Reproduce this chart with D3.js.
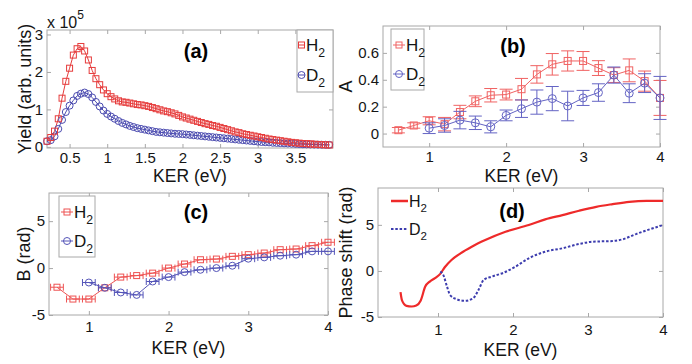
<!DOCTYPE html>
<html><head><meta charset="utf-8">
<script src="https://cdn.jsdelivr.net/npm/d3@7"></script>
<style>body{margin:0;background:#fff}svg{display:block}</style>
</head><body>
<svg id="c" width="692" height="364"></svg>
<script>
// ---------- DATA ----------
// (a) yield (x 1e5) vs KER
const aKER = [0.20,0.25,0.30,0.35,0.40,0.45,0.50,0.55,0.60,0.65,0.70,0.75,0.80,0.85,0.90,0.95,
  1.00,1.05,1.10,1.15,1.20,1.25,1.30,1.35,1.40,1.45,1.50,1.55,1.60,1.65,1.70,1.75,
  1.80,1.85,1.90,1.95,2.00,2.05,2.10,2.15,2.20,2.25,2.30,2.35,2.40,2.45,2.50,2.55,2.60,2.65,2.70,2.75,
  2.80,2.85,2.90,2.95,3.00,3.05,3.10,3.15,3.20,3.25,3.30,3.35,3.40,3.45,3.50,3.55,3.60,3.65,3.70,3.75,
  3.80,3.85,3.90,3.95];
const aH2 = [0.15,0.25,0.42,0.75,1.30,1.75,2.10,2.45,2.62,2.68,2.56,2.32,2.04,1.82,1.66,1.52,
  1.42,1.34,1.28,1.23,1.20,1.19,1.17,1.15,1.13,1.12,1.10,1.08,1.05,1.02,0.99,0.96,
  0.94,0.91,0.88,0.84,0.80,0.77,0.74,0.71,0.68,0.65,0.62,0.60,0.57,0.55,0.52,0.49,0.46,0.43,0.40,0.38,
  0.35,0.33,0.31,0.29,0.27,0.25,0.23,0.21,0.195,0.18,0.165,0.15,0.135,0.12,0.11,0.10,0.09,0.085,0.08,0.07,
  0.065,0.06,0.055,0.05];
const aD2 = [0.15,0.18,0.28,0.48,0.72,0.93,1.10,1.24,1.36,1.42,1.45,1.41,1.32,1.20,1.08,0.97,
  0.88,0.81,0.75,0.69,0.64,0.60,0.56,0.53,0.50,0.48,0.46,0.44,0.42,0.40,0.39,0.38,
  0.37,0.36,0.35,0.345,0.34,0.33,0.32,0.31,0.30,0.29,0.28,0.27,0.26,0.25,0.24,0.23,0.22,0.21,0.20,0.19,
  0.18,0.17,0.16,0.15,0.14,0.13,0.125,0.12,0.11,0.105,0.10,0.095,0.09,0.085,0.08,0.075,0.07,0.068,0.065,0.062,
  0.06,0.058,0.056,0.055];
const aXTicks = [0.5,1,1.5,2,2.5,3,3.5];
const aYTicks = [0,1,2,3];

// (b) asymmetry A
const bKER_H2 = [0.6,0.8,1.0,1.2,1.4,1.6,1.8,2.0,2.2,2.4,2.6,2.8,3.0,3.2,3.4,3.6,3.8,4.0];
const bH2     = [0.025,0.06,0.095,0.07,0.16,0.24,0.285,0.29,0.33,0.44,0.515,0.54,0.54,0.487,0.435,0.47,0.39,0.265];
const bH2err  = [0.02,0.02,0.03,0.05,0.05,0.04,0.05,0.04,0.08,0.065,0.08,0.075,0.07,0.055,0.055,0.085,0.075,0.13];
const bKER_D2 = [1.0,1.2,1.4,1.6,1.8,2.0,2.2,2.4,2.6,2.8,3.0,3.2,3.4,3.6,3.8,4.0];
const bD2     = [0.04,0.06,0.10,0.08,0.05,0.135,0.185,0.234,0.26,0.205,0.265,0.305,0.435,0.30,0.375,0.265];
const bD2err  = [0.04,0.05,0.065,0.05,0.045,0.04,0.065,0.09,0.09,0.11,0.056,0.065,0.06,0.07,0.07,0.16];
const bXTicks = [1,2,3,4];
const bYTicks = [0,0.2,0.4,0.6];

// (c) B (rad)
const cKER_H2 = [0.6,0.8,1.0,1.2,1.4,1.6,1.8,2.0,2.2,2.4,2.6,2.8,3.0,3.2,3.4,3.6,3.8,4.0];
const cH2     = [-2.04,-3.3,-3.3,-2.1,-0.96,-0.8,-0.54,0,0.43,0.89,0.96,1.25,1.43,1.6,1.96,2.03,2.39,2.75];
const cKER_D2 = [1.0,1.2,1.4,1.6,1.8,2.0,2.2,2.4,2.6,2.8,3.0,3.2,3.4,3.6,3.8,4.0];
const cD2     = [-1.54,-2.1,-2.6,-2.86,-1.43,-0.96,-0.43,-0.18,0,0.25,1.0,1.14,1.32,1.43,1.78,1.78];
const cKERerr = 0.08;
const cXTicks = [1,2,3,4];
const cYTicks = [-5,0,5];

// (d) phase shift (rad)
const dKER_H2 = [0.50,0.52,0.58,0.65,0.71,0.77,0.83,0.89,0.96,1.03,1.09,1.18,1.30,1.45,1.63,1.90,2.21,2.43,2.66,2.88,3.11,3.33,3.55,3.78,4.00];
const dH2     = [-2.3,-3.2,-3.79,-3.86,-3.75,-3.2,-1.7,-1.16,-0.79,-0.32,0.4,1.19,1.91,2.63,3.35,4.25,4.98,5.6,6.06,6.53,6.96,7.25,7.5,7.6,7.6];
const dKER_D2 = [1.03,1.07,1.12,1.16,1.25,1.36,1.47,1.54,1.61,1.72,1.88,2.03,2.21,2.43,2.66,2.88,3.06,3.33,3.46,3.64,3.82,4.00];
const dD2     = [-0.07,-0.43,-1.7,-2.6,-3.07,-3.25,-2.96,-2.06,-0.97,-0.61,-0.18,0.45,1.37,2.09,2.46,2.92,3.17,3.25,3.43,4.0,4.51,4.98];
const dXTicks = [1,2,3,4];
const dYTicks = [-5,0,5];

// ---------- DRAWING ----------
const FONT = '"Liberation Sans", Arial, sans-serif';
const FRAME = "#a8a8a8", TXT = "#151515";
const svg = d3.select("#c").attr("font-family", FONT);

function panel(o){
  const x = d3.scaleLinear().domain(o.xd).range([o.l, o.r]);
  const y = d3.scaleLinear().domain(o.yd).range([o.b, o.t]);
  const g = svg.append("g");
  const ax = (gen, tr) => {
    const a = g.append("g").attr("transform", tr).call(gen)
      .attr("font-family", FONT).attr("font-size", 15);
    a.select(".domain").remove();
    a.selectAll("line").attr("stroke", FRAME);
    a.selectAll("text").attr("fill", TXT);
    return a;
  };
  ax(d3.axisBottom(x).tickValues(o.xt).tickSize(-4).tickPadding(o.xpad).tickFormat(d => String(d)), `translate(0,${o.b})`);
  ax(d3.axisTop(x).tickValues(o.xt).tickSize(-4).tickFormat(""), `translate(0,${o.t})`);
  ax(d3.axisLeft(y).tickValues(o.yt).tickSize(-4).tickPadding(o.ypad).tickFormat(d => String(d)), `translate(${o.l},0)`);
  ax(d3.axisRight(y).tickValues(o.yt).tickSize(-4).tickFormat(""), `translate(${o.r},0)`);
  g.append("rect").attr("x", o.l).attr("y", o.t).attr("width", o.r - o.l).attr("height", o.b - o.t)
    .attr("fill", "none").attr("stroke", FRAME).attr("stroke-width", 1);
  g.append("text").attr("x", (o.l + o.r) / 2).attr("y", o.xlY).attr("text-anchor", "middle")
    .attr("font-size", 17.5).attr("fill", TXT).text("KER (eV)");
  g.append("text").attr("transform", `translate(${o.ylX},${(o.t + o.b) / 2}) rotate(-90)`)
    .attr("text-anchor", "middle").attr("font-size", 18).attr("fill", TXT).text(o.ylab);
  g.append("text").attr("x", o.tagX).attr("y", o.tagY).attr("text-anchor", "middle")
    .attr("font-size", 20).attr("font-weight", "bold").attr("fill", "#000").text(o.tag);
  return {x, y, g};
}

function marker(g, type, cx, cy, color, s){
  if (type === "sq") {
    g.append("rect").attr("x", cx - s / 2).attr("y", cy - s / 2).attr("width", s).attr("height", s)
      .attr("fill", "none").attr("stroke", color).attr("stroke-width", 1);
  } else {
    g.append("circle").attr("cx", cx).attr("cy", cy).attr("r", s / 2)
      .attr("fill", "none").attr("stroke", color).attr("stroke-width", 1);
  }
}

function legendEntry(g, x0, x1, y, color, type, s, label, fs, opts = {}){
  g.append("line").attr("x1", x0).attr("x2", x1).attr("y1", y).attr("y2", y)
    .attr("stroke", color).attr("stroke-width", opts.lw || 1)
    .attr("stroke-dasharray", opts.dash || null);
  if (type) marker(g, type, (x0 + x1) / 2, y, color, s);
  const t = g.append("text").attr("x", x1 + 1).attr("y", y + fs * 0.36).attr("font-size", fs).attr("fill", TXT);
  t.append("tspan").text(label);
  t.append("tspan").attr("font-size", fs * 0.72).attr("dy", fs * 0.32).text("2");
}

// ----- (a) -----
{
  const RED = "#e63c3c", BLUE = "#4b4bb0";
  const P = panel({l: 47, r: 333, t: 30, b: 148, xd: [0.2, 4], yd: [-0.03, 3.12], xt: aXTicks, yt: aYTicks,
    xpad: 4, ypad: 4, xlY: 182, ylX: 31, ylab: "Yield (arb. units)", tag: "(a)", tagX: 196, tagY: 58});
  const {x, y, g} = P;
  const line = d3.line().x((d, i) => x(aKER[i])).y(d => y(d));
  g.append("path").datum(aH2).attr("d", line).attr("fill", "none").attr("stroke", RED).attr("stroke-width", 1);
  g.append("path").datum(aD2).attr("d", line).attr("fill", "none").attr("stroke", BLUE).attr("stroke-width", 1);
  aD2.forEach((v, i) => marker(g, "ci", x(aKER[i]), y(v), BLUE, 7));
  aH2.forEach((v, i) => marker(g, "sq", x(aKER[i]), y(v), RED, 6));
  const t = g.append("text").attr("x", 47).attr("y", 28).attr("font-size", 16).attr("fill", TXT);
  t.append("tspan").text("x 10");
  t.append("tspan").attr("font-size", 12).attr("dy", -9).text("5");
  g.append("rect").attr("x", 297).attr("y", 30).attr("width", 36).attr("height", 62)
    .attr("fill", "#fff").attr("stroke", FRAME);
  legendEntry(g, 298, 305, 45, RED, "sq", 6, "H", 17);
  legendEntry(g, 298, 305, 75, BLUE, "ci", 7, "D", 17);
}

// ----- (b) -----
{
  const RED = "#f06262", BLUE = "#6464c4";
  const P = panel({l: 383, r: 660, t: 26, b: 147, xd: [0.4, 4], yd: [-0.1, 0.8], xt: bXTicks, yt: bYTicks,
    xpad: 4, ypad: 4, xlY: 182, ylX: 352, ylab: "A", tag: "(b)", tagX: 513, tagY: 53});
  const {x, y, g} = P;
  const drawSeries = (X, Y, E, color, type, s) => {
    g.append("path").datum(Y).attr("d", d3.line().x((d, i) => x(X[i])).y(d => y(d)))
      .attr("fill", "none").attr("stroke", color).attr("stroke-width", 1);
    Y.forEach((v, i) => {
      const cx = x(X[i]);
      g.append("line").attr("x1", cx).attr("x2", cx).attr("y1", y(v - E[i])).attr("y2", y(v + E[i])).attr("stroke", color);
      [v - E[i], v + E[i]].forEach(w => g.append("line").attr("x1", cx - 6.5).attr("x2", cx + 6.5)
        .attr("y1", y(w)).attr("y2", y(w)).attr("stroke", color));
      marker(g, type, cx, y(v), color, s);
    });
  };
  drawSeries(bKER_H2, bH2, bH2err, RED, "sq", 7);
  drawSeries(bKER_D2, bD2, bD2err, BLUE, "ci", 8);
  g.append("rect").attr("x", 391).attr("y", 29).attr("width", 33).attr("height", 61)
    .attr("fill", "#fff").attr("stroke", FRAME);
  legendEntry(g, 393, 405, 45, RED, "sq", 6, "H", 17);
  legendEntry(g, 393, 405, 74, BLUE, "ci", 7, "D", 17);
}

// ----- (c) -----
{
  const RED = "#ee5252", BLUE = "#5454b8";
  const P = panel({l: 49, r: 328, t: 193, b: 315, xd: [0.5, 4], yd: [-5, 8], xt: cXTicks, yt: cYTicks,
    xpad: 6, ypad: 4, xlY: 354, ylX: 30, ylab: "B (rad)", tag: "(c)", tagX: 196, tagY: 219});
  const {x, y, g} = P;
  const drawSeries = (X, Y, color, type, s) => {
    g.append("path").datum(Y).attr("d", d3.line().x((d, i) => x(X[i])).y(d => y(d)))
      .attr("fill", "none").attr("stroke", color).attr("stroke-width", 1);
    Y.forEach((v, i) => {
      const cy = y(v), xa = x(X[i] - cKERerr), xb = x(X[i] + cKERerr);
      g.append("line").attr("x1", xa).attr("x2", xb).attr("y1", cy).attr("y2", cy).attr("stroke", color);
      [xa, xb].forEach(xx => g.append("line").attr("x1", xx).attr("x2", xx).attr("y1", cy - 3.5).attr("y2", cy + 3.5).attr("stroke", color));
      marker(g, type, x(X[i]), cy, color, s);
    });
  };
  drawSeries(cKER_H2, cH2, RED, "sq", 6);
  drawSeries(cKER_D2, cD2, BLUE, "ci", 7);
  g.append("rect").attr("x", 59).attr("y", 196).attr("width", 36).attr("height", 61)
    .attr("fill", "#fff").attr("stroke", FRAME);
  legendEntry(g, 61, 73, 212, RED, "sq", 6, "H", 17);
  legendEntry(g, 61, 73, 241, BLUE, "ci", 7, "D", 17);
}

// ----- (d) -----
{
  const RED = "#ee2a2a", BLUE = "#3c3cae";
  const P = panel({l: 378, r: 663, t: 188, b: 317, xd: [0.2, 4], yd: [-5, 9], xt: dXTicks, yt: dYTicks,
    xpad: 7, ypad: 4, xlY: 356, ylX: 352, ylab: "Phase shift (rad)", tag: "(d)", tagX: 512, tagY: 218});
  const {x, y, g} = P;
  g.append("path").datum(dH2).attr("d", d3.line().curve(d3.curveMonotoneX).x((d, i) => x(dKER_H2[i])).y(d => y(d)))
    .attr("fill", "none").attr("stroke", RED).attr("stroke-width", 2.2);
  g.append("path").datum(dD2).attr("d", d3.line().curve(d3.curveMonotoneX).x((d, i) => x(dKER_D2[i])).y(d => y(d)))
    .attr("fill", "none").attr("stroke", BLUE).attr("stroke-width", 2).attr("stroke-dasharray", "2.5,1.8");
  legendEntry(g, 391, 408, 201, RED, null, 0, "H", 16, {lw: 2.5});
  legendEntry(g, 391, 408, 229, BLUE, null, 0, "D", 16, {lw: 2.2, dash: "2.5,1.8"});
}
</script>
</body></html>
